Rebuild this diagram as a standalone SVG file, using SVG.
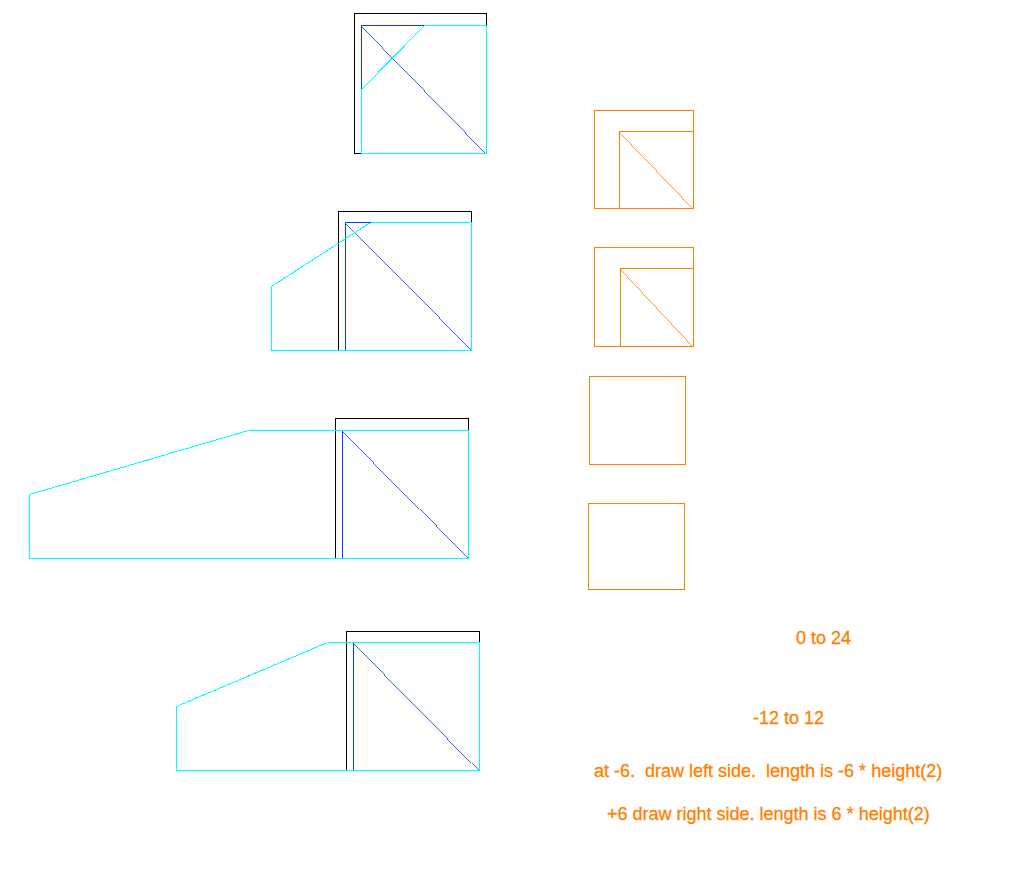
<svg xmlns="http://www.w3.org/2000/svg" width="1018" height="875" viewBox="0 0 1018 875">
<style>
.k,.b,.c,.o,.d{fill:none;stroke-width:1;shape-rendering:crispEdges}
.k{stroke:#000000}.b{stroke:#0040ff}.c{stroke:#00ffff}.o{stroke:#ff8000}
.d{stroke-width:.8}
text{font-family:"Liberation Sans",Arial,sans-serif;font-size:18px;fill:#ff8000;stroke:#ff8000;stroke-width:.3px;white-space:pre}
</style>
<rect width="1018" height="875" fill="#ffffff"/>
<g id="figure-1">
<path class="k" d="M361.5 153.5H354.5V13.5H486.5V25.5"/>
<path class="b" d="M361.5 89.5V25.5H424.5"/>
<path class="b d" d="M361.5 25.5L486.5 153.5"/>
<path class="c" d="M424.5 25.5H486.5V153.5H361.5V89.5L424.5 25.5"/>
</g>
<g id="figure-2">
<path class="k" d="M338.5 350.5V211.5H471.5V222.5"/>
<path class="b" d="M345.5 350.5V222.5H370.5"/>
<path class="b d" d="M345.5 222.5L471.5 350.5"/>
<path class="c" d="M370.5 222.5H471.5V350.5H271.5V286.5L370.5 222.5"/>
</g>
<g id="figure-3">
<path class="k" d="M335.5 558.5V418.5H468.5V430.5"/>
<path class="b" d="M342.5 558.5V430.5"/>
<path class="b d" d="M342.5 430.5L468.5 558.5"/>
<path class="c" d="M248.5 430.5H468.5V558.5H29.5V494.5L248.5 430.5"/>
</g>
<g id="figure-4">
<path class="k" d="M346.5 770.5V631.5H479.5V642.5"/>
<path class="b" d="M353.5 770.5V642.5"/>
<path class="b d" d="M353.5 642.5L479.5 770.5"/>
<path class="c" d="M327.5 642.5H479.5V770.5H176.5V706.5L327.5 642.5"/>
</g>
<g id="orange-1">
<rect class="o" x="594.5" y="110.5" width="99" height="98"/>
<path class="o" d="M693.5 131.5H619.5V208.5"/>
<path class="o d" d="M619.5 131.5L693.5 208.5"/>
</g>
<g id="orange-2">
<rect class="o" x="594.5" y="247.5" width="99" height="99"/>
<path class="o" d="M693.5 268.5H620.5V346.5"/>
<path class="o d" d="M620.5 268.5L693.5 346.5"/>
</g>
<g id="orange-3"><rect class="o" x="589.5" y="376.5" width="96" height="88"/></g>
<g id="orange-4"><rect class="o" x="588.5" y="503.5" width="96" height="86"/></g>
<g id="labels">
<text x="796" y="644">0 to 24</text>
<text x="753" y="724">-12 to 12</text>
<text x="594" y="777">at -6.  draw left side.  length is -6 * height(2)</text>
<text x="607" y="820">+6 draw right side. length is 6 * height(2)</text>
</g>
</svg>
